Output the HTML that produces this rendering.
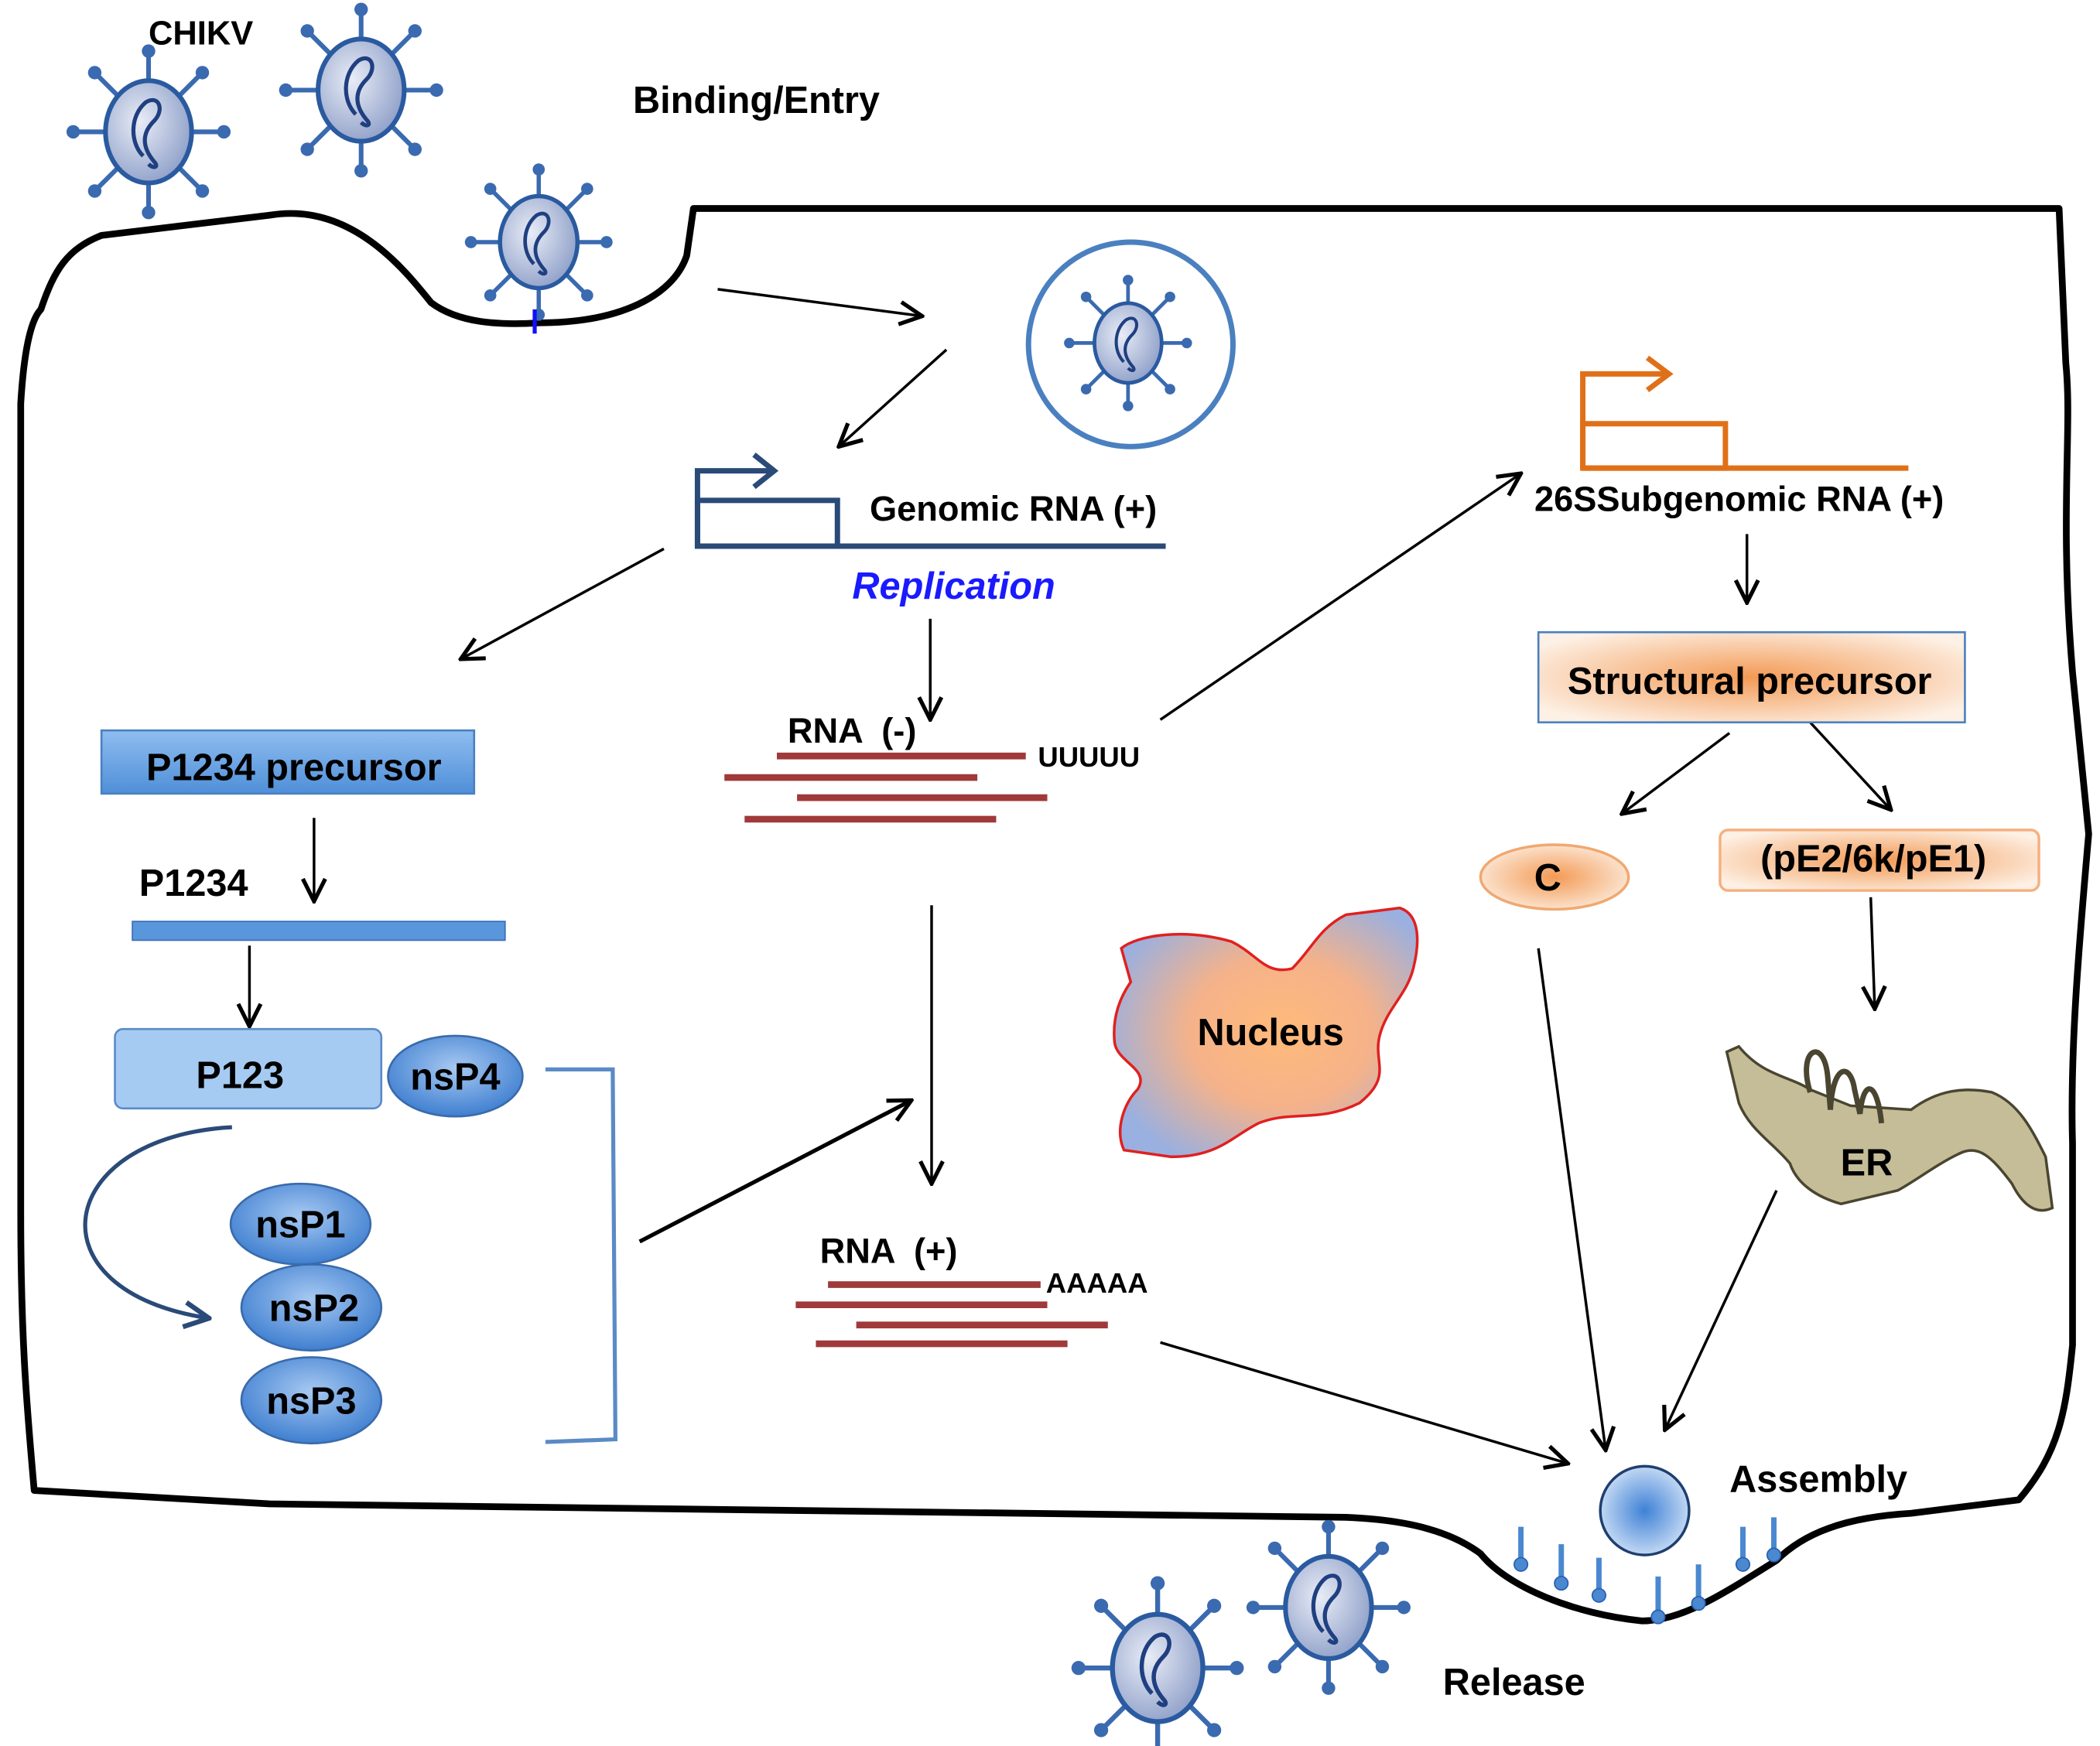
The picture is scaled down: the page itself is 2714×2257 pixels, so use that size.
<!DOCTYPE html>
<html><head><meta charset="utf-8"><style>html,body{margin:0;padding:0;background:#fff}svg{display:block}text{font-family:"Liberation Sans",sans-serif;font-weight:bold}</style></head><body>
<svg width="2714" height="2257" viewBox="0 0 1560 1298" xmlns="http://www.w3.org/2000/svg">
<defs>
<radialGradient id="vg" cx="40%" cy="40%" r="65%"><stop offset="0" stop-color="#e8ecf6"/><stop offset="1" stop-color="#8e9fc8"/></radialGradient>
<linearGradient id="bb" x1="0" y1="0" x2="0" y2="1"><stop offset="0" stop-color="#8fbdf0"/><stop offset="1" stop-color="#4f8fd8"/></linearGradient>
<radialGradient id="eg" cx="50%" cy="40%" r="60%"><stop offset="0" stop-color="#a7c9f2"/><stop offset="1" stop-color="#3f7fd0"/></radialGradient>
<radialGradient id="og" cx="50%" cy="50%" r="60%"><stop offset="0" stop-color="#f39a55"/><stop offset="1" stop-color="#fdf0e4"/></radialGradient>
<radialGradient id="ng" cx="55%" cy="50%" r="60%"><stop offset="0" stop-color="#ffba7a"/><stop offset="0.5" stop-color="#f5b28a"/><stop offset="1" stop-color="#9ab0e0"/></radialGradient>
<radialGradient id="ag" cx="50%" cy="50%" r="55%"><stop offset="0" stop-color="#3f82d6"/><stop offset="1" stop-color="#cfe0f6"/></radialGradient>
<marker id="ar" viewBox="0 0 12 12" refX="11" refY="6" markerWidth="20" markerHeight="20" markerUnits="userSpaceOnUse" orient="auto"><path d="M1,1 L11,6 L1,11" fill="none" stroke="#000" stroke-width="1.8"/></marker>
<marker id="ar2" viewBox="0 0 12 12" refX="11" refY="6" markerWidth="22" markerHeight="22" markerUnits="userSpaceOnUse" orient="auto"><path d="M1,1 L11,6 L1,11" fill="none" stroke="#2a4a78" stroke-width="2"/></marker>
<g id="v">
<g stroke="#3a6ab0" stroke-width="3.5">
<line x1="0" y1="-36" x2="0" y2="-60"/><line x1="0" y1="36" x2="0" y2="60"/>
<line x1="-30" y1="0" x2="-56" y2="0"/><line x1="30" y1="0" x2="56" y2="0"/>
<line x1="22" y1="-26" x2="40" y2="-44"/><line x1="-22" y1="-26" x2="-40" y2="-44"/>
<line x1="22" y1="26" x2="40" y2="44"/><line x1="-22" y1="26" x2="-40" y2="44"/>
</g>
<g fill="#3a6ab0"><circle cx="0" cy="-60" r="5"/><circle cx="0" cy="60" r="5"/><circle cx="-56" cy="0" r="5"/><circle cx="56" cy="0" r="5"/><circle cx="40" cy="-44" r="5"/><circle cx="-40" cy="-44" r="5"/><circle cx="40" cy="44" r="5"/><circle cx="-40" cy="44" r="5"/></g>
<ellipse cx="0" cy="0" rx="32" ry="38" fill="url(#vg)" stroke="#2a5aa0" stroke-width="3.5"/>
<path d="M-4,18 C-14,8 -14,-12 -2,-22 C8,-28 12,-16 4,-8 C-4,0 -6,10 4,22 C8,26 4,28 0,24" fill="none" stroke="#1f3f80" stroke-width="3"/>
</g>
</defs>

<path d="M30,230 C40,200 50,185 75,175 L200,160 C260,150 300,200 320,225 C340,240 370,242 400,240 C460,240 500,220 510,190 L515,155 L1530,155 L1535,270 C1540,320 1530,380 1540,500 L1552,620 C1545,700 1538,780 1540,850 L1540,1000 C1535,1050 1530,1080 1500,1115 L1420,1125 C1370,1128 1340,1140 1320,1160 C1280,1185 1250,1205 1220,1205 C1170,1200 1120,1180 1100,1155 C1080,1140 1050,1130 1000,1128 L200,1118 L25,1108 C20,1050 15,1000 15,900 L15,300 C18,250 25,235 30,230 Z" fill="none" stroke="#000" stroke-width="5" stroke-linejoin="round"/>

<use href="#v" transform="translate(110,98)"/>
<use href="#v" transform="translate(268,67)"/>
<use href="#v" transform="translate(400,180) scale(0.9)"/>
<line x1="397" y1="230" x2="397" y2="248" stroke="#1010ff" stroke-width="3"/>
<circle cx="840" cy="256" r="76" fill="#fff" stroke="#4a80c0" stroke-width="4"/>
<use href="#v" transform="translate(838,255) scale(0.78)"/>
<use href="#v" transform="translate(860,1240) scale(1.05)"/>
<use href="#v" transform="translate(987,1195)"/>

<g stroke="#000" stroke-width="2" fill="none" marker-end="url(#ar)">
<line x1="533" y1="215" x2="685" y2="235"/>
<line x1="703" y1="260" x2="623" y2="332"/>
<line x1="493" y1="408" x2="342" y2="490"/>
<line x1="691" y1="460" x2="691" y2="535"/>
<line x1="233" y1="608" x2="233" y2="670"/>
<line x1="185" y1="703" x2="185" y2="763"/>
<line x1="692" y1="673" x2="692" y2="880"/>
<line x1="475" y1="923" x2="677" y2="818" stroke-width="3"/>
<line x1="862" y1="535" x2="1130" y2="352"/>
<line x1="1298" y1="397" x2="1298" y2="448"/>
<line x1="1285" y1="545" x2="1205" y2="605"/>
<line x1="1345" y1="537" x2="1405" y2="602"/>
<line x1="1390" y1="667" x2="1393" y2="750"/>
<line x1="1143" y1="705" x2="1193" y2="1078"/>
<line x1="1320" y1="885" x2="1237" y2="1063"/>
<line x1="862" y1="998" x2="1165" y2="1088"/>
</g>
<path d="M172,838 C40,845 20,960 155,980" fill="none" stroke="#2a4a78" stroke-width="3" marker-end="url(#ar2)"/>

<g stroke="#2a4a78" stroke-width="4" fill="none">
<path d="M518,406 L518,350 L572,350"/><path d="M560,338 L575,350 L560,362"/>
<rect x="518" y="372" width="104" height="34"/>
<line x1="518" y1="406" x2="866" y2="406"/>
</g>
<g stroke="#e07018" stroke-width="4" fill="none">
<path d="M1176,348 L1176,278 L1238,278"/><path d="M1224,266 L1240,278 L1224,290"/>
<rect x="1176" y="315" width="106" height="33"/>
<line x1="1176" y1="348" x2="1418" y2="348"/>
</g>

<g stroke="#a0393a" stroke-width="5">
<line x1="577" y1="562" x2="762" y2="562"/><line x1="538" y1="578" x2="726" y2="578"/>
<line x1="592" y1="593" x2="778" y2="593"/><line x1="553" y1="609" x2="740" y2="609"/>
<line x1="615" y1="955" x2="773" y2="955"/><line x1="591" y1="970" x2="778" y2="970"/>
<line x1="636" y1="985" x2="823" y2="985"/><line x1="606" y1="999" x2="793" y2="999"/>
</g>

<rect x="75" y="543" width="277" height="47" fill="url(#bb)" stroke="#4a80c0" stroke-width="1.5"/>
<rect x="98" y="685" width="277" height="14" fill="#5a96dc" stroke="#3a70b8"/>
<rect x="85" y="765" width="198" height="59" rx="6" fill="#a6cbf2" stroke="#5a8ac8" stroke-width="1.5"/>
<g fill="url(#eg)" stroke="#3a6aaa" stroke-width="1.5">
<ellipse cx="338" cy="800" rx="50" ry="30"/>
<ellipse cx="223" cy="910" rx="52" ry="30"/>
<ellipse cx="231" cy="1041" rx="52" ry="32"/>
<ellipse cx="231" cy="972" rx="52" ry="32"/>
</g>
<path d="M405,795 L455,795 L457,1070 L405,1072" fill="none" stroke="#5b8ac6" stroke-width="3"/>

<path d="M833,705 C845,695 880,690 915,700 C935,710 940,725 960,720 C975,705 980,690 1000,680 L1040,675 C1055,680 1055,700 1050,720 C1045,740 1030,750 1025,770 C1020,790 1035,800 1010,820 C980,835 960,825 935,835 C915,845 905,860 870,860 L835,855 C828,840 835,820 845,810 C855,795 830,790 828,775 C826,755 833,740 840,730 Z" fill="url(#ng)" stroke="#e02020" stroke-width="2"/>

<rect x="1143" y="470" width="317" height="67" fill="url(#og)" stroke="#4a80c0" stroke-width="1.5"/>
<ellipse cx="1155" cy="652" rx="55" ry="24" fill="url(#og)" stroke="#f0a870" stroke-width="2"/>
<rect x="1278" y="617" width="237" height="45" rx="6" fill="url(#og)" stroke="#f5b080" stroke-width="2"/>

<path d="M1283,782 L1292,778 C1310,800 1330,800 1345,810 L1375,822 L1420,825 C1440,810 1460,808 1480,812 C1500,820 1510,840 1520,860 L1525,898 C1510,905 1500,890 1495,880 C1480,860 1470,850 1455,858 C1440,865 1420,880 1410,885 L1368,895 C1350,890 1335,880 1330,865 C1318,850 1300,840 1292,820 Z" fill="#c4bd98" stroke="#4a4530" stroke-width="2"/>
<path d="M1345,812 C1335,780 1355,770 1358,800 L1360,825 C1362,790 1375,790 1378,810 L1382,828 C1385,800 1395,805 1398,835" fill="none" stroke="#4a4530" stroke-width="4"/>

<circle cx="1222" cy="1123" r="33" fill="url(#ag)" stroke="#1f3f70" stroke-width="2"/>
<g stroke="#4a88d0" stroke-width="4">
<line x1="1130" y1="1135" x2="1130" y2="1162"/><line x1="1160" y1="1148" x2="1160" y2="1176"/>
<line x1="1188" y1="1158" x2="1188" y2="1184"/><line x1="1232" y1="1172" x2="1232" y2="1200"/>
<line x1="1262" y1="1163" x2="1262" y2="1191"/><line x1="1295" y1="1135" x2="1295" y2="1162"/>
<line x1="1318" y1="1128" x2="1318" y2="1155"/>
</g>
<g fill="#4a88d0" stroke="#2a60b0"><circle cx="1130" cy="1163" r="5"/><circle cx="1160" cy="1177" r="5"/><circle cx="1188" cy="1186" r="5"/><circle cx="1232" cy="1202" r="5"/><circle cx="1262" cy="1192" r="5"/><circle cx="1295" cy="1163" r="5"/><circle cx="1318" cy="1156" r="5"/></g>

<g font-size="28" fill="#000">
<text x="110" y="33" font-size="25">CHIKV</text>
<text x="470" y="84">Binding/Entry</text>
<text x="646" y="387" font-size="26">Genomic RNA (+)</text>
<text x="633" y="445" font-style="italic" fill="#1a1aff" font-size="28">Replication</text>
<text x="585" y="552" font-size="26" xml:space="preserve">RNA  (-)</text>
<text x="771" y="570" font-size="21">UUUUU</text>
<text x="218" y="580" text-anchor="middle">P1234 precursor</text>
<text x="103" y="666" font-size="28">P1234</text>
<text x="178" y="809" text-anchor="middle">P123</text>
<text x="338" y="810" text-anchor="middle">nsP4</text>
<text x="223" y="920" text-anchor="middle">nsP1</text>
<text x="233" y="982" text-anchor="middle">nsP2</text>
<text x="231" y="1051" text-anchor="middle">nsP3</text>
<text x="609" y="939" font-size="26" xml:space="preserve">RNA  (+)</text>
<text x="777" y="961" font-size="21">AAAAA</text>
<text x="944" y="777" text-anchor="middle">Nucleus</text>
<text x="1140" y="380" font-size="26">26SSubgenomic RNA (+)</text>
<text x="1300" y="516" text-anchor="middle">Structural precursor</text>
<text x="1150" y="662" text-anchor="middle">C</text>
<text x="1392" y="648" text-anchor="middle">(pE2/6k/pE1)</text>
<text x="1387" y="874" text-anchor="middle">ER</text>
<text x="1285" y="1109">Assembly</text>
<text x="1072" y="1260">Release</text>
</g>
</svg>
</body></html>
